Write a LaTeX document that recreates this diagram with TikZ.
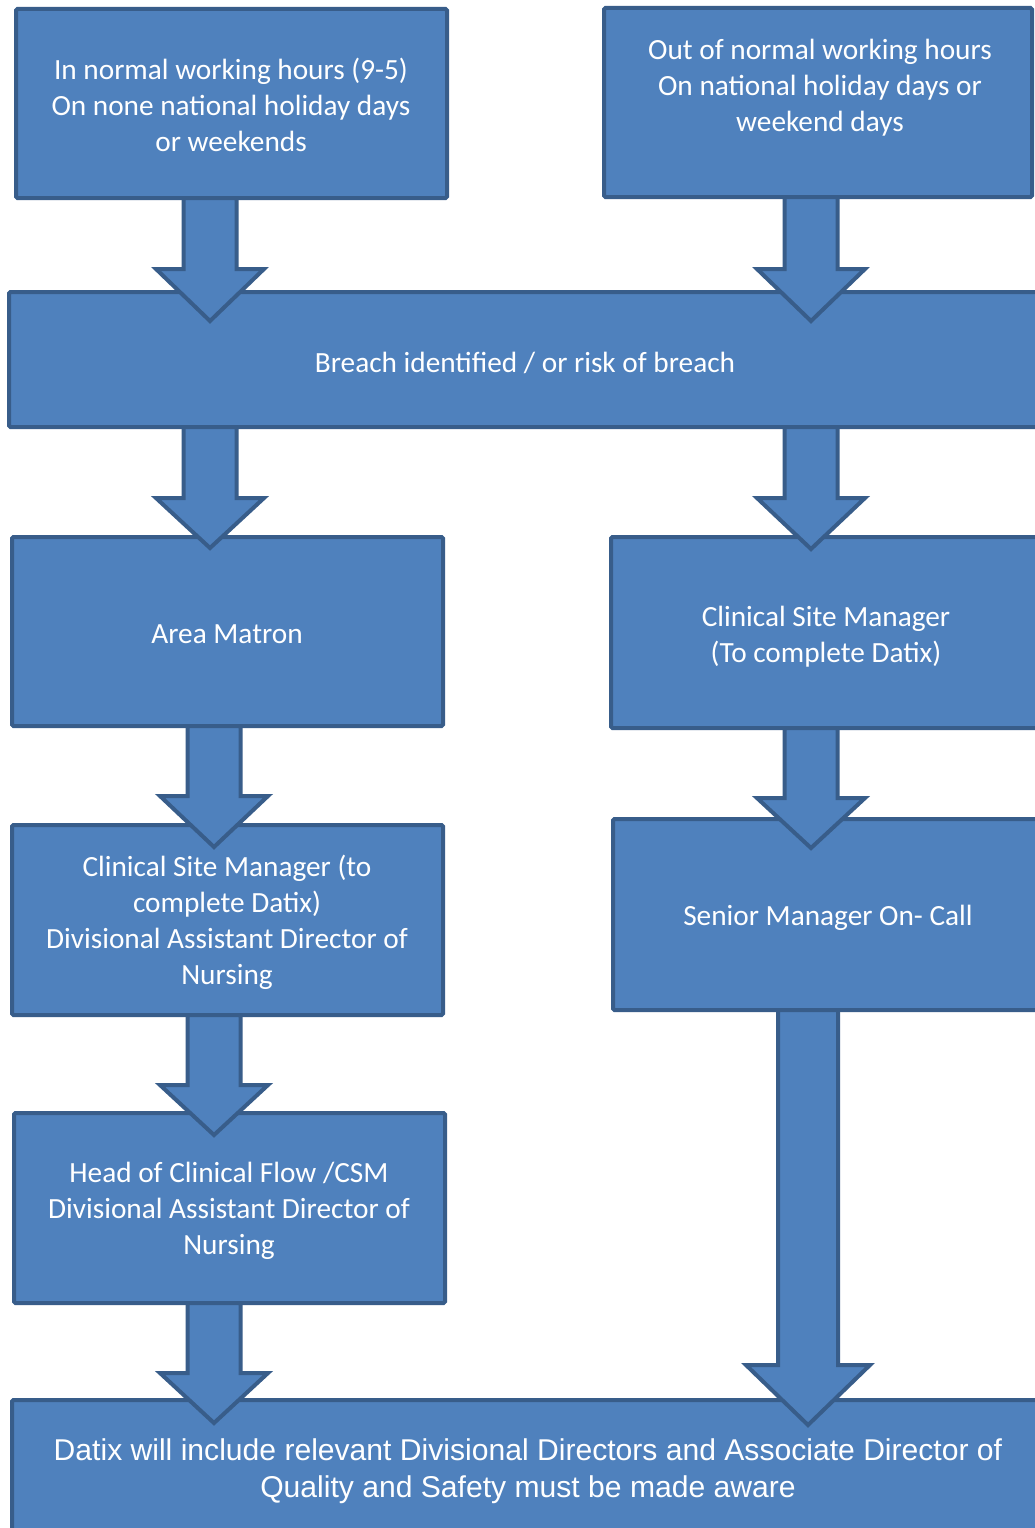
\documentclass[tikz,border=0pt]{standalone}
\usepackage{fontspec}
\setmainfont{Carlito}
\newfontfamily\arialfont{Liberation Sans}
\usetikzlibrary{calc}
\definecolor{boxfill}{HTML}{4F81BD}
\definecolor{boxline}{HTML}{385D8A}
\tikzset{
  box/.style={draw=boxline, fill=boxfill, line width=4pt, rounded corners=1.5pt, inner sep=0pt, outer sep=0pt},
  boxtext/.style={text=white, align=center, inner sep=0pt, font=\fontsize{29.3}{36}\selectfont},
  datixtext/.style={text=white, align=center, inner sep=0pt, font=\arialfont\fontsize{30.1}{37}\selectfont},
  blockarrow/.style={draw=boxline, fill=boxfill, line width=4pt, line join=miter}
}
% #1 x-coordinate name, #2 source node, #3 base y, #4 tip y, #5 half shaft, #6 half head
\newcommand{\barrow}[6]{%
  \draw[blockarrow] ($(#1 |- #2.south)+(-#5,0)$) -- ($(#1)+(-#5,#3)$) -- ($(#1)+(-#6,#3)$)
    -- ($(#1)+(0,#4)$) -- ($(#1)+(#6,#3)$) -- ($(#1)+(#5,#3)$) -- ($(#1 |- #2.south)+(#5,0)$) -- cycle;}
\begin{document}
\begin{tikzpicture}[x=1pt,y=-1pt]
\useasboundingbox (0,0) rectangle (1035,1528);
\clip (0,0) rectangle (1035,1528);
\fill[white] (0,0) rectangle (1035,1528);
% boxes
\node[box, minimum width=431pt, minimum height=189pt] (tl) at (231.5,103.5) {};
\node[box, minimum width=428pt, minimum height=189pt] (tr) at (818,102.5) {};
\node[box, minimum width=1036pt, minimum height=135pt] (breach) at (527,359.5) {};
\node[box, minimum width=431pt, minimum height=189pt] (am) at (227.5,631.5) {};
\node[box, minimum width=434pt, minimum height=191pt] (csmr) at (828,632.5) {};
\node[box, minimum width=431pt, minimum height=190pt] (csml) at (227.5,920) {};
\node[box, minimum width=432pt, minimum height=191pt] (senior) at (829,914.5) {};
\node[box, minimum width=431pt, minimum height=190pt] (head) at (229.5,1208) {};
\node[box, minimum width=1033pt, minimum height=135pt] (datix) at (528.5,1467.5) {};
% texts
\node[boxtext] (tl-t) at (231,105) {In normal working hours (9-5)\\On none national holiday days\\or weekends};
\node[boxtext] (tr-t) at (820,88) {Out of normal working hours\\On national holiday days or\\weekend days};
\node[boxtext] (breach-t) at (525,363) {Breach identified / or risk of breach};
\node[boxtext] (am-t) at (227,634) {Area Matron};
\node[boxtext] (csmr-t) at (826,636.5) {Clinical Site Manager\\(To complete Datix)};
\node[boxtext] (csml-t) at (227,922.5) {Clinical Site Manager (to\\complete Datix)\\Divisional Assistant Director of\\Nursing};
\node[boxtext] (senior-t) at (828,918) {Senior Manager On- Call};
\node[boxtext] (head-t) at (229,1211) {Head of Clinical Flow /CSM\\Divisional Assistant Director of\\Nursing};
\node[datixtext] (datix-t) at (528,1471.5) {Datix will include relevant Divisional Directors and Associate Director of\\Quality and Safety must be made aware};
% arrow axes
\coordinate (xa) at (210,0);
\coordinate (xb) at (811,0);
\coordinate (xc) at (214,0);
\coordinate (xd) at (808,0);
% arrows
\barrow{xa}{tl}{269}{321}{26.5}{54}
\barrow{xb}{tr}{269}{321}{26.5}{54}
\barrow{xa}{breach}{498}{548}{26.5}{54}
\barrow{xb}{breach}{498}{549}{26.5}{54}
\barrow{xc}{am}{796}{847}{26.5}{54}
\barrow{xb}{csmr}{798}{848}{26.5}{54}
\barrow{xc}{csml}{1085}{1135}{26.5}{54}
\barrow{xc}{head}{1373}{1423}{26.5}{54}
\barrow{xd}{senior}{1365}{1425}{30}{62}
\end{tikzpicture}
\end{document}
